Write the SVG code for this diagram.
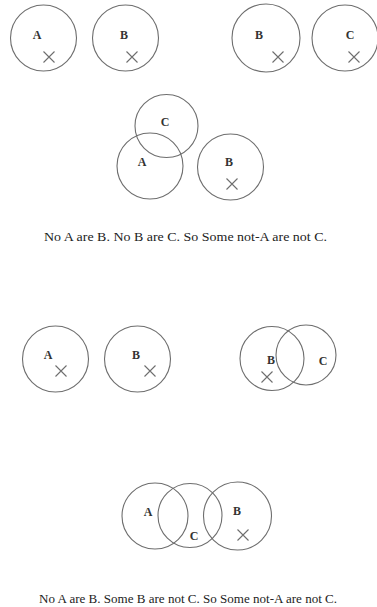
<svg xmlns="http://www.w3.org/2000/svg" width="377" height="607" viewBox="0 0 377 607">
<style>
circle{fill:none;stroke:#6e6e6e;stroke-width:1.1}
.x{stroke:#6e6e6e;stroke-width:1.1;fill:none}
.l{font-family:"Liberation Serif",serif;font-size:12px;font-weight:bold;fill:#333;text-anchor:middle}
.c{font-family:"Liberation Serif",serif;font-size:13px;fill:#222;text-anchor:middle}
</style>
<defs><path id="x" class="x" d="M-5.5,-5.5L5.5,5.5M5.5,-5.5L-5.5,5.5"/></defs>
<rect width="377" height="607" fill="#fff"/>
<g id="d1-A"><circle cx="43.5" cy="38" r="33"/><text class="l" x="37" y="39">A</text><use href="#x" x="49" y="57"/></g>
<g id="d1-B"><circle cx="125.5" cy="38" r="33"/><text class="l" x="124" y="39">B</text><use href="#x" x="132" y="57"/></g>
<g id="d2-B"><circle cx="266" cy="38" r="34"/><text class="l" x="259" y="39">B</text><use href="#x" x="278" y="57"/></g>
<g id="d2-C"><circle cx="345" cy="38" r="33"/><text class="l" x="350" y="39">C</text><use href="#x" x="354" y="57"/></g>
<g id="d3-C"><circle cx="166.5" cy="126" r="31.5"/><text class="l" x="165" y="126">C</text></g>
<g id="d3-A"><circle cx="150" cy="166" r="33"/><text class="l" x="142" y="166">A</text></g>
<g id="d3-B"><circle cx="230.5" cy="167" r="33"/><text class="l" x="229" y="166">B</text><use href="#x" x="232" y="184"/></g>
<text class="c" x="185.5" y="241" textLength="283" lengthAdjust="spacingAndGlyphs">No A are B. No B are C. So Some not-A are not C.</text>
<g id="d4-A"><circle cx="55.5" cy="359" r="33"/><text class="l" x="48" y="359">A</text><use href="#x" x="61" y="371"/></g>
<g id="d4-B"><circle cx="137.5" cy="359" r="33"/><text class="l" x="136" y="359">B</text><use href="#x" x="150" y="371"/></g>
<g id="d5-B"><circle cx="272" cy="358.5" r="32"/><text class="l" x="271" y="364">B</text><use href="#x" x="267" y="377"/></g>
<g id="d5-C"><circle cx="306" cy="355" r="30"/><text class="l" x="323" y="365">C</text></g>
<g id="d6-A"><circle cx="155" cy="516" r="33"/><text class="l" x="148" y="516">A</text></g>
<g id="d6-C"><circle cx="190" cy="515.5" r="32"/><text class="l" x="194" y="540">C</text></g>
<g id="d6-B"><circle cx="237.5" cy="516" r="34"/><text class="l" x="237" y="515">B</text><use href="#x" x="243" y="535"/></g>
<text class="c" x="188" y="603" textLength="298" lengthAdjust="spacingAndGlyphs">No A are B. Some B are not C. So Some not-A are not C.</text>
</svg>
